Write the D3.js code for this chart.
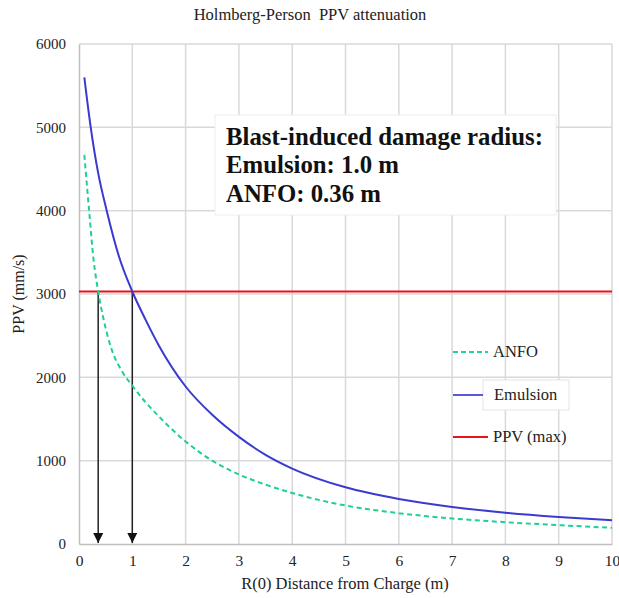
<!DOCTYPE html>
<html><head><meta charset="utf-8">
<script src="https://cdn.jsdelivr.net/npm/d3@7"></script>
<style>
body{margin:0;background:#fff;}
svg text{font-family:'Liberation Serif',serif !important;}
</style></head>
<body><svg id="c" width="619" height="598"></svg>
<script>
const emulsionR = [0.1, 0.22, 0.36, 0.52, 0.75, 1, 1.25, 1.5, 2, 2.5, 3, 3.5, 4, 5, 6, 7, 8, 9, 10];
const emulsion  = [5600, 5000, 4450, 4000, 3450, 3030, 2690, 2380, 1890, 1550, 1285, 1070, 905, 680, 540, 445, 376, 325, 284];
const anfoR     = [0.1, 0.19, 0.27, 0.36, 0.46, 0.61, 0.8, 1, 1.25, 1.5, 2, 2.5, 3, 3.5, 4, 5, 6, 7, 8, 9, 10];
const anfo      = [4670, 4000, 3430, 3030, 2700, 2340, 2080, 1900, 1700, 1530, 1230, 1000, 835, 712, 612, 462, 370, 306, 262, 226, 194];
const ppvMax = 3030;
const radii = [0.36, 1.0];
const xTicks = [0,1,2,3,4,5,6,7,8,9,10];
const yTicks = [0,1000,2000,3000,4000,5000,6000];
const legendItems = ["ANFO","Emulsion","PPV (max)"];
const noteLines = ["Blast-induced damage radius:","Emulsion: 1.0 m","ANFO: 0.36 m"];

const FONT = "'Liberation Serif', serif";
const svg = d3.select("#c");
const L=79, R=612, T=44, B=544;
const x = d3.scaleLinear().domain([0,10]).range([L,R]);
const y = d3.scaleLinear().domain([0,6000]).range([B,T]);

// grid
svg.append("g").selectAll("line").data(xTicks.slice(1)).join("line")
  .attr("x1",d=>x(d)).attr("x2",d=>x(d)).attr("y1",T).attr("y2",B)
  .attr("stroke","#d9d9d9").attr("stroke-width",1.5);
svg.append("g").selectAll("line").data(yTicks.slice(1)).join("line")
  .attr("x1",L).attr("x2",R).attr("y1",d=>y(d)).attr("y2",d=>y(d))
  .attr("stroke","#d9d9d9").attr("stroke-width",1.5);

// axes
const xa = svg.append("g").attr("transform",`translate(0,${B})`)
  .call(d3.axisBottom(x).tickValues(xTicks).tickSize(0).tickPadding(11).tickFormat(d3.format("d")));
xa.attr("font-family",FONT).attr("font-size",15.5);
xa.select(".domain").attr("stroke","#bfbfbf").attr("stroke-width",1.5);
xa.selectAll("text").attr("fill","#222");
const ya = svg.append("g").attr("transform",`translate(${L},0)`)
  .call(d3.axisLeft(y).tickValues(yTicks).tickSize(0).tickPadding(13).tickFormat(d3.format("d")));
ya.attr("font-family",FONT).attr("font-size",15);
ya.select(".domain").attr("stroke","#bfbfbf").attr("stroke-width",1.5);
ya.selectAll("text").attr("fill","#222");

// titles
svg.append("text").attr("x",310).attr("y",20).attr("text-anchor","middle")
  .attr("font-size",16.5).attr("fill","#222").style("white-space","pre").text("Holmberg-Person  PPV attenuation");
svg.append("text").attr("x",345).attr("y",589).attr("text-anchor","middle")
  .attr("font-size",16.5).attr("fill","#222").text("R(0) Distance from Charge (m)");
svg.append("text").attr("transform","translate(24,294) rotate(-90)").attr("text-anchor","middle")
  .attr("font-size",16).attr("fill","#222").text("PPV (mm/s)");

// annotation box
const nb = svg.append("g");
nb.append("rect").attr("x",215).attr("y",115).attr("width",341).attr("height",100)
  .attr("fill","#fff").attr("stroke","#eeeeee");
nb.selectAll("text").data(noteLines).join("text")
  .attr("x",226).attr("y",(d,i)=>144.5+i*28.8)
  .attr("font-size",24.8).attr("font-weight","bold").attr("fill","#111").text(d=>d);

// red line
svg.append("line").attr("x1",L).attr("x2",R).attr("y1",y(ppvMax)).attr("y2",y(ppvMax))
  .attr("stroke","#e8141b").attr("stroke-width",2);

// arrows
svg.append("defs").append("marker").attr("id","ah").attr("viewBox","0 0 10 10")
  .attr("refX",10).attr("refY",5).attr("markerWidth",10).attr("markerHeight",10)
  .attr("markerUnits","userSpaceOnUse").attr("orient","auto")
  .append("path").attr("d","M0,0L10,5L0,10Z").attr("fill","#111");
svg.append("g").selectAll("line").data(radii).join("line")
  .attr("x1",d=>x(d)).attr("x2",d=>x(d)).attr("y1",y(ppvMax)).attr("y2",B-1)
  .attr("stroke","#222").attr("stroke-width",1.5).attr("marker-end","url(#ah)");

const lineA = d3.line().x((d,i)=>x(anfoR[i])).y(d=>y(d)).curve(d3.curveMonotoneX);
const lineE = d3.line().x((d,i)=>x(emulsionR[i])).y(d=>y(d)).curve(d3.curveMonotoneX);
svg.append("path").attr("d",lineA(anfo)).attr("fill","none")
  .attr("stroke","#1fcf98").attr("stroke-width",2).attr("stroke-dasharray","5,3.5");
svg.append("path").attr("d",lineE(emulsion)).attr("fill","none")
  .attr("stroke","#3a3ad0").attr("stroke-width",2);

// legend
const lg = svg.append("g");
const lyPos = [352, 395, 437];
const lColors = ["#1fcf98","#5a5ad8","#e8141b"];
const lDash = ["5,3","none","none"];
lg.append("rect").attr("x",483).attr("y",380).attr("width",86).attr("height",30)
  .attr("fill","#fff").attr("stroke","#e4e4e4");
legendItems.forEach((t,i)=>{
  lg.append("line").attr("x1",453).attr("x2",i==1?483:488).attr("y1",lyPos[i]).attr("y2",lyPos[i])
    .attr("stroke",lColors[i]).attr("stroke-width",2).attr("stroke-dasharray",lDash[i]);
  lg.append("text").attr("x",i==1?494:493).attr("y",lyPos[i]+5).attr("font-size",16.5).attr("fill","#222").text(t);
});
svg.selectAll("text").attr("font-family",FONT);
</script></body></html>
